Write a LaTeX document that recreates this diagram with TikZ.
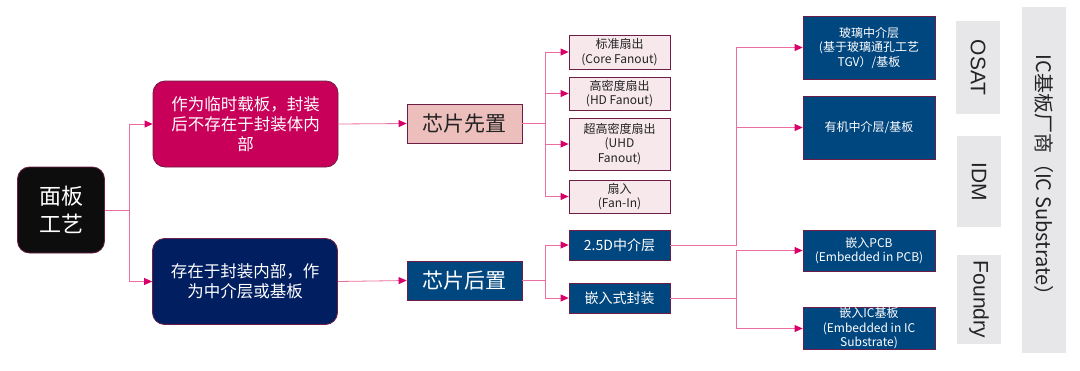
\documentclass[tikz,border=0pt]{standalone}
\usepackage{fontspec}
\setmainfont{Noto Sans CJK SC}
\newfontfamily\tagfont{Liberation Sans}
\usetikzlibrary{arrows.meta}

\definecolor{edgecol}{RGB}{110,30,70}
\definecolor{rootcol}{RGB}{13,13,13}
\definecolor{tempcol}{RGB}{200,0,90}
\definecolor{navycol}{RGB}{1,31,96}
\definecolor{stagecol}{RGB}{236,190,188}
\definecolor{bluecol}{RGB}{0,70,127}
\definecolor{leafcol}{RGB}{247,232,236}
\definecolor{greycol}{RGB}{231,231,233}
\definecolor{linkcol}{RGB}{235,110,160}
\definecolor{tipcol}{RGB}{215,0,105}
\definecolor{textcol}{RGB}{35,35,35}

\begin{document}
\begin{tikzpicture}[
    x=1pt, y=-1pt,
    box/.style={draw=edgecol, line width=0.8pt, inner sep=0pt, align=center},
    rootbox/.style={box, fill=rootcol, text=white, rounded corners=12pt,
        minimum width=87pt, minimum height=86pt, font=\fontsize{22}{28}\selectfont},
    catbox/.style={box, text=white, rounded corners=12pt,
        minimum width=185pt, minimum height=86pt, font=\fontsize{16.5}{20}\selectfont},
    stagebox/.style={box, minimum width=115pt, minimum height=39pt,
        font=\fontsize{21}{25}\selectfont},
    leafbox/.style={box, fill=leafcol, text=textcol, minimum width=101pt,
        font=\fontsize{12}{14.5}\selectfont},
    midbox/.style={box, fill=bluecol, text=white, minimum width=101pt, minimum height=30pt,
        font=\fontsize{14}{16}\selectfont},
    bluebox/.style={box, fill=bluecol, text=white, minimum width=132pt,
        font=\fontsize{12}{14.5}\selectfont},
    tagbox/.style={fill=greycol, text=textcol, inner sep=0pt, rotate=-90,
        minimum height=44pt},
    link/.style={draw=linkcol, line width=0.8pt,
        -{Triangle[length=8pt, width=7pt, color=tipcol]}}
]
    \useasboundingbox (0,0) rectangle (1080,370);

    % Root and categories
    \node[rootbox] (root) at (61,210) {面板\\工艺};
    \node[catbox, fill=tempcol] (temp) at (245.5,124) {作为临时载板，封装\\后不存在于封装体内\\部};
    \node[catbox, fill=navycol] (perm) at (245,281.5) {存在于封装内部，作\\为中介层或基板};

    % Chip first / chip last
    \node[stagebox, fill=stagecol, text=textcol] (first) at (464.5,123.5) {芯片先置};
    \node[stagebox, fill=bluecol, text=white] (last) at (464.5,280.5) {芯片后置};

    % Chip-first variants
    \node[leafbox, minimum height=34pt] (std) at (619.5,52) {标准扇出\\(Core Fanout)};
    \node[leafbox, minimum height=33pt] (hd) at (619.5,93.5) {高密度扇出\\(HD Fanout)};
    \node[leafbox, minimum height=52pt] (uhd) at (619.5,144) {超高密度扇出\\(UHD\\Fanout)};
    \node[leafbox, minimum height=33pt] (fanin) at (619.5,196.5) {扇入\\(Fan-In)};

    % Chip-last variants
    \node[midbox] (inter) at (619.5,245) {2.5D中介层};
    \node[midbox] (embed) at (619.5,298) {嵌入式封装};

    % Substrates
    \node[bluebox, minimum height=63pt] (glass) at (869,47.5) {玻璃中介层\\(基于玻璃通孔工艺\\TGV）/基板};
    \node[bluebox, minimum height=63pt] (organic) at (869,127.5) {有机中介层/基板};
    \node[bluebox, minimum height=41pt] (pcb) at (869,250.5) {嵌入PCB\\(Embedded in PCB)};
    \node[bluebox, minimum height=41pt] (icsub) at (869,328.5) {嵌入IC基板\\(Embedded in IC\\Substrate)};

    % Makers
    \node[tagbox, minimum width=93pt, font=\tagfont\fontsize{21}{24}\selectfont] (osat) at (978,67.5) {OSAT};
    \node[tagbox, minimum width=91pt, font=\tagfont\fontsize{21}{24}\selectfont] (idm) at (979,181.5) {IDM};
    \node[tagbox, minimum width=89pt, font=\tagfont\fontsize{21}{24}\selectfont] (foundry) at (979,299.5) {Foundry};
    \node[tagbox, minimum width=346pt, font=\fontsize{20}{24}\selectfont] (maker) at (1044,180) {IC基板厂商（IC Substrate）};

    % Edges from root
    \draw[link] (root.east) -- ++(24,0) |- (temp.west);
    \draw[link] (root.east) -- ++(24,0) |- (perm.west);

    % Edges to stages
    \draw[link] (temp.east) -- (first.west);
    \draw[link] (perm.east) -- (last.west);

    % Edges from chip first
    \foreach \leaf in {std, hd, uhd, fanin}
        \draw[link] (first.east) -- ++(23,0) |- (\leaf.west);

    % Edges from chip last
    \draw[link] (last.east) -- ++(23,0) |- (inter.west);
    \draw[link] (last.east) -- ++(23,0) |- (embed.west);

    % Edges to substrates
    \draw[link] (inter.east) -- ++(66,0) |- (glass.west);
    \draw[link] (inter.east) -- ++(66,0) |- (organic.west);
    \draw[link] (embed.east) -- ++(66,0) |- (pcb.west);
    \draw[link] (embed.east) -- ++(66,0) |- (icsub.west);

\end{tikzpicture}
\end{document}
